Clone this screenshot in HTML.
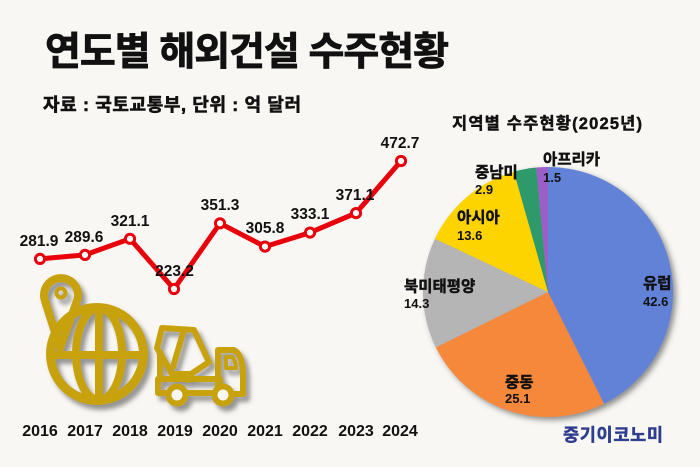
<!DOCTYPE html>
<html>
<head>
<meta charset="utf-8">
<style>
html,body{margin:0;padding:0;background:#f8f7f3;}
body{width:700px;height:467px;overflow:hidden;}
svg{display:block;}
text{font-family:"Liberation Sans","Noto Sans CJK KR",sans-serif;font-weight:bold;fill:#111;}
.k{stroke:#111;stroke-width:0.45;}
</style>
</head>
<body>
<svg width="700" height="467" viewBox="0 0 700 467" xmlns="http://www.w3.org/2000/svg">
<defs>
<filter id="sh" x="-20%" y="-20%" width="150%" height="150%">
<feDropShadow dx="4" dy="5" stdDeviation="2.5" flood-color="#6a6a6a" flood-opacity="0.7"/>
</filter>
<filter id="psh" x="-10%" y="-10%" width="125%" height="125%">
<feDropShadow dx="3" dy="3" stdDeviation="3" flood-color="#444" flood-opacity="0.6"/>
</filter>
</defs>
<rect width="700" height="467" fill="#f8f7f3"/>

<!-- Title -->
<text class="k" x="45" y="65" font-size="39" textLength="404" lengthAdjust="spacing" style="stroke-width:0.8">연도별 해외건설 수주현황</text>
<text class="k" x="43" y="111" font-size="18" textLength="258" lengthAdjust="spacing" style="stroke-width:0.6">자료 : 국토교통부, 단위 : 억 달러</text>

<!-- Icons -->
<g filter="url(#sh)" fill="none" stroke="#c8a20a" stroke-linecap="round" stroke-linejoin="round">
  <!-- globe -->
  <circle cx="97" cy="354" r="46.5" stroke-width="9"/>
  <ellipse cx="99" cy="354" rx="23" ry="46" stroke-width="8"/>
  <line x1="99" y1="309" x2="99" y2="399" stroke-width="8"/>
  <line x1="52" y1="355" x2="142" y2="355" stroke-width="8"/>
  <!-- pin -->
  <path d="M60,348 L44.8,300.25 A17,17 0 1,1 77.2,300.25 Z" stroke-width="8"/>
  <circle cx="61" cy="293" r="4.5" stroke-width="4"/>
  <!-- truck -->
  <rect x="158" y="379" width="62" height="14" stroke-width="6"/>
  <path d="M218,394 L218,350 L234,350 Q242,354 243,372 L243,394 Z" stroke-width="6"/>
  <path d="M226,357 L232,357 Q236,361 236,368 L226,368 Z" stroke-width="4"/>
  <path d="M162,328 L194,330 L209,362 L191,374 L172,374 L157,348 Z" stroke-width="6"/>
  <line x1="183" y1="333" x2="173" y2="367" stroke-width="6"/>
  <line x1="160" y1="352" x2="160" y2="380" stroke-width="6"/>
  <line x1="188" y1="374" x2="188" y2="380" stroke-width="6"/>
  <circle cx="177" cy="395" r="8.5" stroke-width="6" fill="#f8f7f3"/>
  <circle cx="223" cy="395" r="8.5" stroke-width="6" fill="#f8f7f3"/>
</g>

<!-- Line -->
<polyline fill="none" stroke="#e8000b" stroke-width="5" stroke-linejoin="round"
 points="40,258.9 85,254.9 130,238.8 174,289 220,223.3 265,246.6 310,232.6 356,213.1 401,161"/>
<g fill="#fff" stroke="#e8000b" stroke-width="3">
  <circle cx="40" cy="258.9" r="4.6"/>
  <circle cx="85" cy="254.9" r="4.6"/>
  <circle cx="130" cy="238.8" r="4.6"/>
  <circle cx="174" cy="289" r="4.6"/>
  <circle cx="220" cy="223.3" r="4.6"/>
  <circle cx="265" cy="246.6" r="4.6"/>
  <circle cx="310" cy="232.6" r="4.6"/>
  <circle cx="356" cy="213.1" r="4.6"/>
  <circle cx="401" cy="161" r="4.6"/>
</g>
<g font-size="15.5" text-anchor="middle">
  <text x="39" y="246">281.9</text>
  <text x="84" y="242">289.6</text>
  <text x="130" y="226">321.1</text>
  <text x="174.5" y="276">223.2</text>
  <text x="220" y="210">351.3</text>
  <text x="265" y="233">305.8</text>
  <text x="310" y="219">333.1</text>
  <text x="355" y="200">371.1</text>
  <text x="400" y="148">472.7</text>
</g>
<g font-size="16" text-anchor="middle">
  <text x="40" y="436">2016</text>
  <text x="85" y="436">2017</text>
  <text x="130" y="436">2018</text>
  <text x="175" y="436">2019</text>
  <text x="220" y="436">2020</text>
  <text x="265" y="436">2021</text>
  <text x="310" y="436">2022</text>
  <text x="356" y="436">2023</text>
  <text x="400" y="436">2024</text>
</g>

<!-- Pie -->
<text class="k" x="452" y="129" font-size="16.5" textLength="190" lengthAdjust="spacing">지역별 수주현황(2025년)</text>
<g filter="url(#psh)">
  <path d="M548,292 L548,167 A125,125 0 0,1 604.04,403.74 Z" fill="#6282d8"/>
  <path d="M548,292 L604.04,403.74 A125,125 0 0,1 435.91,347.35 Z" fill="#f5883b"/>
  <path d="M548,292 L435.91,347.35 A125,125 0 0,1 434.9,238.8 Z" fill="#b5b5b5"/>
  <path d="M548,292 L434.9,238.8 A125,125 0 0,1 513.88,171.75 Z" fill="#fdd300"/>
  <path d="M548,292 L513.88,171.75 A125,125 0 0,1 536.24,167.56 Z" fill="#2f9a6c"/>
  <path d="M548,292 L536.24,167.56 A125,125 0 0,1 548,167 Z" fill="#9c5fc8"/>
</g>
<g font-size="15.5" class="k">
  <text x="543" y="164.5">아프리카</text>
  <text x="475" y="177.5">중남미</text>
  <text x="457" y="222.5">아시아</text>
  <text x="404" y="291.5">북미태평양</text>
  <text x="643" y="288.5">유럽</text>
  <text x="505" y="387.5">중동</text>
</g>
<g font-size="13">
  <text x="543" y="182">1.5</text>
  <text x="475" y="194">2.9</text>
  <text x="457" y="240">13.6</text>
  <text x="404" y="308">14.3</text>
  <text x="643" y="306">42.6</text>
  <text x="505" y="403">25.1</text>
</g>
<text x="563" y="441" font-size="17.5" style="fill:#2e3d8f;stroke:#2e3d8f;stroke-width:0.5" textLength="100" lengthAdjust="spacing">중기이코노미</text>
</svg>
</body>
</html>
